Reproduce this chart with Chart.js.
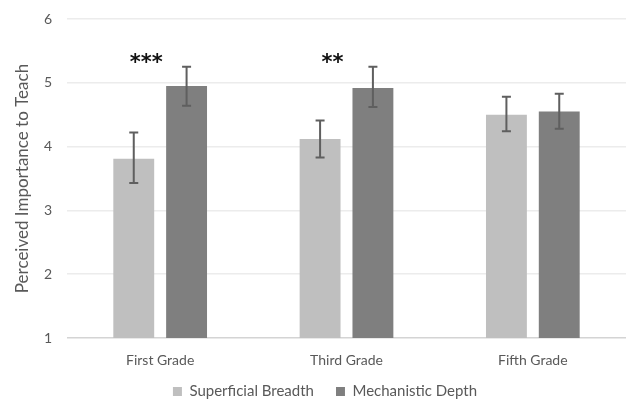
<!DOCTYPE html>
<html>
<head>
<meta charset="utf-8">
<script src="https://cdn.jsdelivr.net/npm/chart.js@4"></script>
<style>
  html, body { margin: 0; padding: 0; background: #fff; }
  #wrap { width: 626px; height: 401px; }
</style>
</head>
<body>
<div id="wrap"><canvas id="gradeChart"></canvas></div>
<script>
var grades = ['First Grade', 'Third Grade', 'Fifth Grade'];
var breadthMeans = [3.81, 4.12, 4.50];
var breadthLow = [3.43, 3.83, 4.24];
var breadthHigh = [4.22, 4.41, 4.78];
var depthMeans = [4.95, 4.92, 4.55];
var depthLow = [4.64, 4.62, 4.28];
var depthHigh = [5.25, 5.25, 4.83];
var stars = ['***', '**', ''];
var starLevel = 5.4;
var yTicks = [1, 2, 3, 4, 5, 6];

var fontName = 'Lato, "Open Sans", sans-serif';

// whiskers for each bar, drawn from the data arrays via the y scale
var errorBars = {
  id: 'errorBars',
  beforeLayout(chart) {
    // legend keeps wide gaps between items but takes little height
    var lg = chart.legend;
    if (lg && !lg._squeezed) {
      var fit = lg.fit;
      lg.fit = function() { fit.call(this); this.height = 31; };
      lg._squeezed = true;
    }
  },
  afterLayout(chart) {
    // start drawing a bit higher, keep the clip box down to the canvas edge
    if (chart.legend) chart.legend.top -= 8;
  },
  afterDatasetsDraw(chart) {
    var ctx = chart.ctx;
    var y = chart.scales.y;
    var lows = [breadthLow, depthLow];
    var highs = [breadthHigh, depthHigh];
    ctx.save();
    ctx.strokeStyle = '#5f5f5f';
    ctx.lineWidth = 2;
    for (var d = 0; d < 2; d++) {
      chart.getDatasetMeta(d).data.forEach(function(bar, i) {
        var top = y.getPixelForValue(highs[d][i]);
        var bot = y.getPixelForValue(lows[d][i]);
        ctx.beginPath();
        ctx.moveTo(bar.x, top); ctx.lineTo(bar.x, bot);
        ctx.moveTo(bar.x - 4.5, top); ctx.lineTo(bar.x + 4.5, top);
        ctx.moveTo(bar.x - 4.5, bot); ctx.lineTo(bar.x + 4.5, bot);
        ctx.stroke();
      });
    }
    // significance stars over each group
    ctx.fillStyle = '#111';
    ctx.font = 'bold 21px "DejaVu Sans", sans-serif';
    ctx.textAlign = 'center';
    ctx.textBaseline = 'middle';
    stars.forEach(function(s, i) {
      if (!s) return;
      var x = chart.scales.x.getPixelForValue(i) - 14;
      ctx.fillText(s, x, y.getPixelForValue(starLevel) + 6);
    });
    ctx.restore();
  }
};

new Chart(document.getElementById('gradeChart'), {
  type: 'bar',
  data: {
    labels: grades,
    datasets: [{
      label: 'Superficial Breadth',
      data: breadthMeans,
      backgroundColor: '#bfbfbf',
      borderWidth: 0
    },
    {
      label: 'Mechanistic Depth',
      data: depthMeans,
      backgroundColor: '#7f7f7f',
      borderWidth: 0
    }]
  },
  options: {
    responsive: true,
    maintainAspectRatio: false,
    animation: false,
    categoryPercentage: 0.567,
    barPercentage: 0.774,
    layout: { padding: { left: 24, right: 0, top: 19, bottom: 0 } },
    scales: {
      x: {
        grid: { display: false },
        border: { display: false },
        ticks: { color: '#595959', font: { family: fontName, size: 14 }, padding: 6 },
        afterFit(scale) { scale.height = 32; }
      },
      y: {
        min: 1,
        max: 6,
        afterBuildTicks(scale) { scale.ticks = yTicks.map(function(v) { return { value: v }; }); },
        grid: {
          color: function(c) { return c.tick && c.tick.value === 1 ? '#d4d4d4' : '#ececec'; },
          lineWidth: 1.5,
          drawTicks: false
        },
        border: { display: false },
        ticks: { color: '#595959', font: { family: fontName, size: 14 }, padding: 15 },
        title: {
          display: true,
          text: 'Perceived Importance to Teach',
          color: '#595959',
          font: { family: fontName, size: 17 },
          padding: { top: -12, bottom: 4 }
        },
        afterFit(scale) { scale.width = 43; scale.paddingTop = 4; scale.paddingBottom = 4; }
      }
    },
    plugins: {
      legend: {
        position: 'bottom',
        labels: {
          color: '#595959',
          font: { family: fontName, size: 15 },
          boxWidth: 9,
          boxHeight: 9,
          padding: 22
        }
      },
      tooltip: { enabled: false }
    }
  },
  plugins: [errorBars]
});
</script>
</body>
</html>
